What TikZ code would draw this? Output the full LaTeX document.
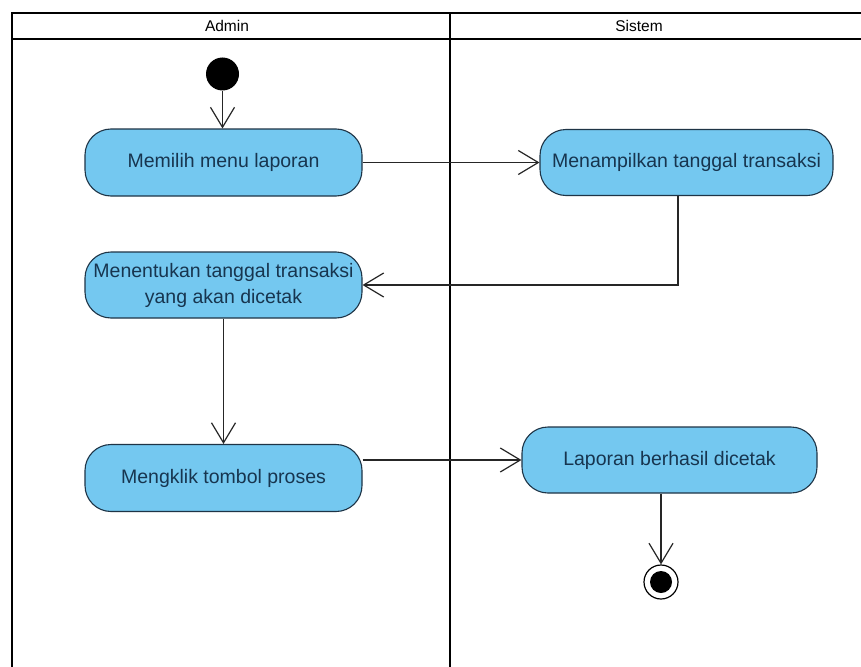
\documentclass[tikz,border=0pt]{standalone}
\usepackage{fontspec}
\setmainfont{Liberation Sans}
\usetikzlibrary{arrows.meta}
\definecolor{actfill}{HTML}{74C8F0}
\definecolor{actdraw}{HTML}{1E3446}
\definecolor{acttext}{HTML}{17354F}
\begin{document}
\begin{tikzpicture}[x=1pt,y=-1pt,
  lane/.style={line width=2.8pt,draw=black},
  act/.style={draw=actdraw,fill=actfill,line width=1.1pt,rounded corners=26pt,
    text=acttext,align=center,inner sep=0pt,
    font=\fontsize{19.5pt}{26pt}\selectfont},
  hdr/.style={font=\fontsize{15.5pt}{18pt}\selectfont,inner sep=0pt},
  arr/.style={draw=black!85,line width=1.2pt,-{Straight Barb[length=20pt,width=24pt,line width=1.2pt]}},
  startnode/.style={circle,fill=black,minimum size=33pt,inner sep=0pt},
]
\useasboundingbox (0,0) rectangle (861,666);
\fill[white] (0,0) rectangle (861,666);
% swimlanes
\draw[lane] (861,13) -- (12,13) -- (12,667);
\draw[lane] (12,39) -- (861,39);
\draw[lane] (450,13) -- (450,667);
\node[hdr] (hA) at (227,26) {Admin};
\node[hdr] (hS) at (639,26) {Sistem};
% nodes
\node[startnode] (start) at (222.5,74) {};
\node[act,minimum width=277pt,minimum height=67pt] (a1) at (223.5,162.5) {Memilih menu laporan};
\node[act,minimum width=293pt,minimum height=66pt] (b1) at (686.5,162.5) {Menampilkan tanggal transaksi};
\node[act,minimum width=277pt,minimum height=66pt] (a2) at (223.5,285) {Menentukan tanggal transaksi\\yang akan dicetak};
\node[act,minimum width=277pt,minimum height=67pt] (a3) at (223.5,478) {Mengklik tombol proses};
\node[act,minimum width=295pt,minimum height=66pt] (b2) at (669.5,460) {Laporan berhasil dicetak};
\node[circle,draw=black,line width=1.2pt,fill=white,minimum size=34pt,inner sep=0pt] (end) at (661,582) {};
\fill[black] (end.center) circle (11pt);
% connectors
\draw[arr] (start) -- (start |- a1.north);
\draw[arr] (a1.east) -- (b1.west);
\coordinate (turn) at (678,0);
\draw[arr] (b1.south -| turn) |- (a2.east);
\draw[arr] (a2.south) -- (a3.north);
\draw[arr] (a3.east |- b2.west) -- (b2.west);
\draw[arr] (end |- b2.south) -- (end.north);
\end{tikzpicture}
\end{document}
